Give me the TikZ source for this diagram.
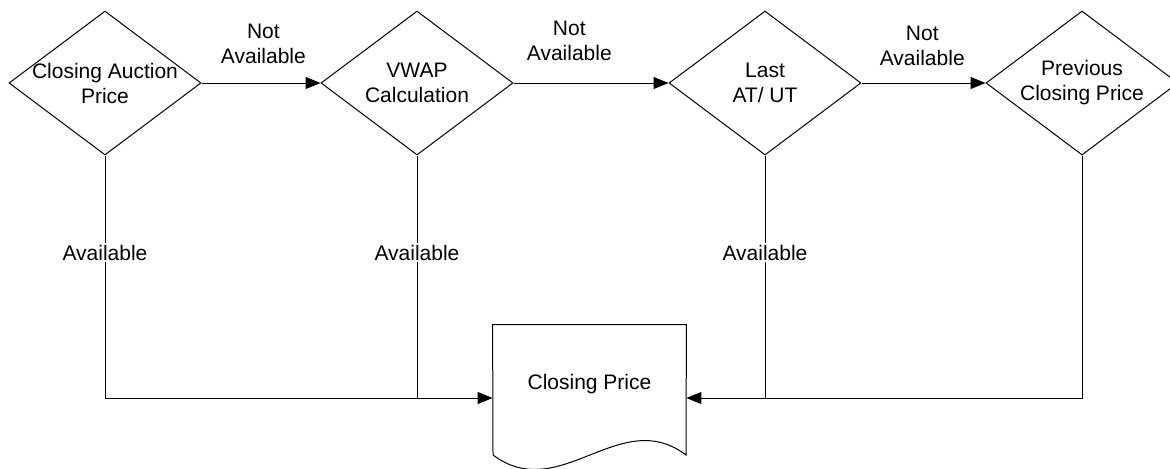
\documentclass[tikz,border=0pt]{standalone}
\usepackage{fontspec}
\setmainfont{Liberation Sans}
\usetikzlibrary{arrows.meta,shapes.geometric}

\begin{document}
\begin{tikzpicture}[x=0.5pt,y=-0.5pt,
        every node/.style={font=\fontsize{10.5}{12.5}\selectfont},
        decision/.style={draw,diamond,aspect=1.333,inner sep=0pt,
            minimum width=96pt,minimum height=72pt,line width=0.5pt},
        inlabel/.style={align=center},
        docbox/.style={minimum width=96.5pt,minimum height=73pt,inner sep=0pt},
        wire/.style={line width=0.5pt},
        flow/.style={wire,-{Triangle[length=7.5pt,width=6pt]}},
        notav/.style={align=center,above=6pt},
        avail/.style={fill=white,inner sep=1pt}]

        \useasboundingbox (0,0) rectangle (1170,468);

        \node[decision,label={[inlabel]center:Closing Auction\\Price}] (cap) at (105,83) {};
        \node[decision,label={[inlabel]center:VWAP\\Calculation}] (vwap) at (417,83) {};
        \node[decision,label={[inlabel]center:Last\\AT/ UT}] (last) at (765,83) {};
        \node[decision,label={[inlabel]center:Previous\\Closing Price}] (prev) at (1082,83) {};
        \node[docbox,label={[yshift=7pt]center:Closing Price}] (close) at (589.5,398) {};

        \draw[wire] (close.north west) -- (close.north east) -- (686,455)
            .. controls (620,405) and (560,505) .. (493,455) -- cycle;

        \draw[flow] (cap.east) -- node[notav,pos=0.52]{Not\\Available} (vwap.west);
        \draw[flow] (vwap.east) -- node[notav,pos=0.36,yshift=1.5pt]{Not\\Available} (last.west);
        \draw[flow] (last.east) -- node[notav,pos=0.49,yshift=-1pt]{Not\\Available} (prev.west);

        \draw[flow] (cap.south) |- node[avail,pos=0.2]{Available} (close.west);
        \draw[wire] (vwap.south) -- node[avail,pos=0.4]{Available} (vwap.south |- close.west);
        \draw[wire] (last.south) -- node[avail,pos=0.4]{Available} (last.south |- close.east);
        \draw[flow] (prev.south) |- (close.east);
    \end{tikzpicture}
\end{document}
